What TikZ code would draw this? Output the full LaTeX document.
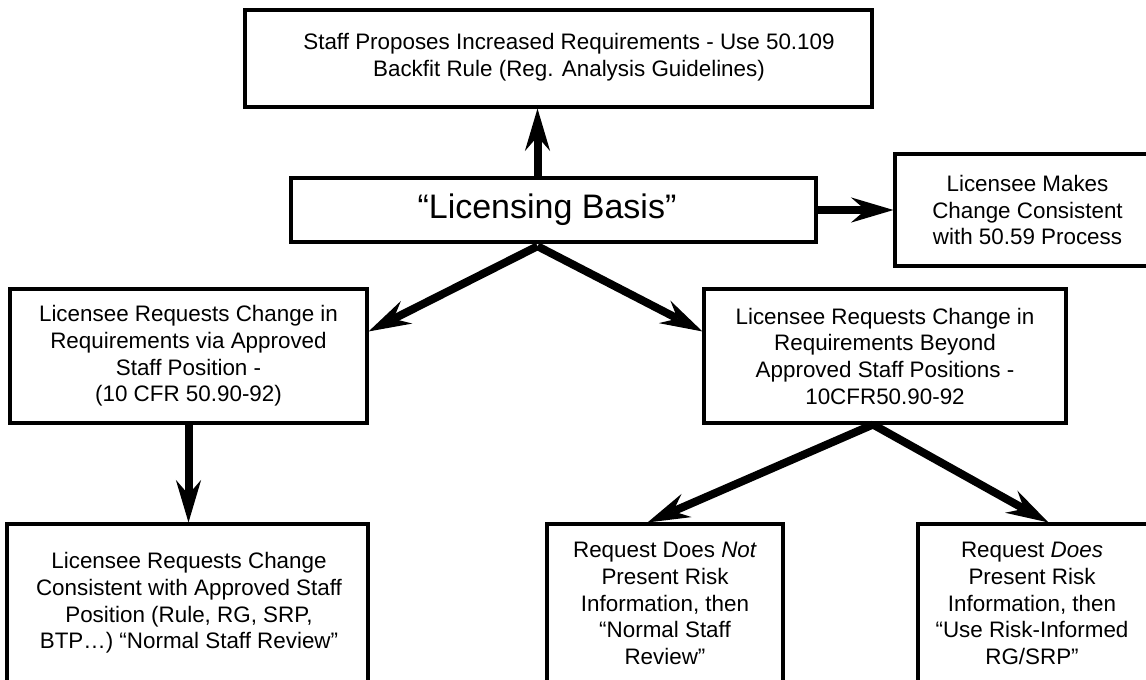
\documentclass[tikz,border=0pt]{standalone}
\usepackage{fontspec}
\setmainfont{Liberation Sans}
\usetikzlibrary{arrows.meta,calc}
\tikzset{
  box/.style={draw=black, line width=2.3pt, fill=white, inner sep=0pt, align=center,
    font=\fontsize{16.8}{20}\selectfont},
  txt/.style={inner sep=0pt, align=center, font=\fontsize{16.8}{20}\selectfont},
  arr/.style={draw=black, line width=6pt,
    -{Stealth[length=32pt,width=19pt,inset=11pt,line width=0pt]}},
}
\begin{document}
\begin{tikzpicture}[x=0.75pt,y=-0.75pt]
\useasboundingbox (0,0) rectangle (1146,679);
\fill[white] (0,0) rectangle (1146,679);
\clip (0,0) rectangle (1146,679);

% boxes
\node[box, minimum width=627*0.75pt, minimum height=97*0.75pt] (top) at (558.5,58.5) {};
\node[txt] (topt) at (569,57.5)
  {Staff Proposes Increased Requirements - Use 50.109\\Backfit Rule (Reg. Analysis Guidelines)};
\node[box, minimum width=525*0.75pt, minimum height=64*0.75pt] (lb) at (553.5,210) {};
\node[txt, font=\fontsize{25.5}{30}\selectfont] (lbt) at (547,210) {“Licensing Basis”};
\node[box, minimum width=265*0.75pt, minimum height=112*0.75pt] (rb) at (1027.5,210)
  {Licensee Makes\\Change Consistent\\with 50.59 Process};
\node[box, minimum width=357*0.75pt, minimum height=134*0.75pt] (lft) at (188.5,356)
  {Licensee Requests Change in\\Requirements via Approved\\Staff Position -\\(10 CFR 50.90-92)};
\node[box, minimum width=362*0.75pt, minimum height=134*0.75pt] (mr) at (885,356)
  {Licensee Requests Change in\\Requirements Beyond\\Approved Staff Positions -\\10CFR50.90-92};

% bottom boxes (run off the lower edge)
\node[box, minimum width=361*0.75pt, minimum height=190*0.75pt] (bl) at (187.5,619) {};
\node[box, minimum width=236*0.75pt, minimum height=190*0.75pt] (bm) at (665,619) {};
\node[box, minimum width=236*0.75pt, minimum height=190*0.75pt] (br) at (1036,619) {};
\node[txt] (blt) at (189,603)
  {Licensee Requests Change\\Consistent with Approved Staff\\Position (Rule, RG, SRP,\\BTP…) “Normal Staff Review”};
\node[txt] (bmt) at (665,603.5)
  {Request Does \textit{Not}\\Present Risk\\Information, then\\“Normal Staff\\Review”};
\node[txt] (brt) at (1032,603.5)
  {Request \textit{Does}\\Present Risk\\Information, then\\“Use Risk-Informed\\RG/SRP”};

% connectors
\coordinate (lbtop) at ([xshift=-12pt]lb.north);
\coordinate (lbbot) at ([xshift=-12pt,yshift=-2pt]lb.south);
\coordinate (mrbot) at ([xshift=-9pt]mr.south);
\draw[arr] (lbtop) -- (lbtop |- top.south);
\draw[arr] (lb.east) -- (rb.west);
\draw[arr] (lbbot) -- ([yshift=-33pt]lft.north east);
\draw[arr] (lbbot) -- ([yshift=-33pt]mr.north west);
\draw[arr] (lft.south) -- (lft.south |- bl.north);
\draw[arr] (mrbot) -- ([xshift=76.5pt]bm.north west);
\draw[arr] (mrbot) -- ([xshift=99pt]br.north west);
\end{tikzpicture}
\end{document}
